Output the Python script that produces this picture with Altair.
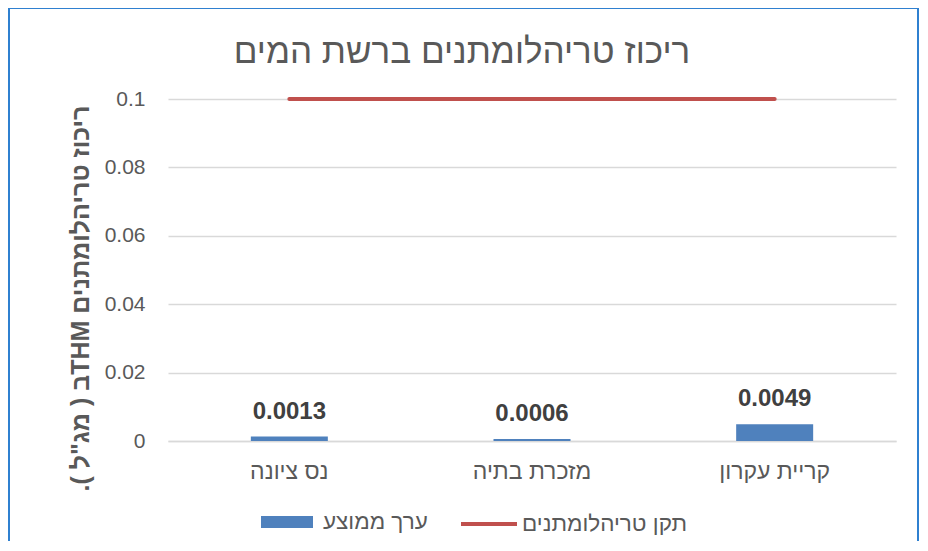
import altair as alt
import pandas as pd

categories = ["נס ציונה", "מזכרת בתיה", "קריית עקרון"]
avg_values = [0.0013, 0.0006, 0.0049]
standard_values = [0.1, 0.1, 0.1]
y_ticks = [0, 0.02, 0.04, 0.06, 0.08, 0.1]

bar_name = "ערך ממוצע"
line_name = "תקן טריהלומתנים"
title_text = "ריכוז טריהלומתנים ברשת המים"
y_title = "\u202Bריכוז טריהלומתנים  THMב ( מג\"ל ).\u202C"

df = pd.DataFrame({
    "city": categories,
    "avg": avg_values,
    "std": standard_values,
    "bar_series": [bar_name] * 3,
    "line_series": [line_name] * 3,
})

FONT = "Liberation Sans"
W, H = 728, 342

x_enc = alt.X("city:N", sort=categories, title=None,
              scale=alt.Scale(paddingInner=0, paddingOuter=0),
              axis=alt.Axis(labelFontSize=23, labelColor="#595959", labelFont=FONT,
                            labelPadding=19, ticks=False, domainColor="#D9D9D9",
                            domainWidth=1.5, labelAngle=0))

y_scale = alt.Scale(domain=[0, 0.1], nice=False)

bars = alt.Chart(df).mark_bar(size=77).encode(
    x=x_enc,
    y=alt.Y("avg:Q", scale=y_scale,
            axis=alt.Axis(values=y_ticks, format="~g", labelFontSize=21,
                          labelColor="#595959", labelFont=FONT, labelPadding=23,
                          ticks=False, domain=False, gridColor="#D9D9D9", gridWidth=1.5,
                          title=y_title, titleFont=FONT, titleFontSize=25,
                          titleFontWeight="bold", titleColor="#595959",
                          titleAngle=-90, titleX=-88, titleY=199,
                          titleAlign="center", titleBaseline="middle")),
    fill=alt.Fill("bar_series:N",
                  scale=alt.Scale(domain=[bar_name], range=["#4F81BD"]),
                  legend=alt.Legend(title=None, orient="none", legendX=93, legendY=397,
                                    symbolType="M-1,-0.23H1V0.23H-1Z", symbolSize=2704,
                                    symbolStrokeWidth=0, labelFontSize=22.5,
                                    labelColor="#595959", labelFont=FONT,
                                    labelOffset=10, labelLimit=400, padding=0)),
)

labels = alt.Chart(df).mark_text(
    dy=-18, baseline="alphabetic", fontSize=24, fontWeight="bold",
    color="#404040", font=FONT
).encode(
    x=alt.X("city:N", sort=categories),
    y=alt.Y("avg:Q", scale=y_scale),
    text=alt.Text("avg:Q", format=".4f"),
)

line = alt.Chart(df).mark_line(strokeWidth=4, strokeCap="round").encode(
    x=alt.X("city:N", sort=categories),
    y=alt.Y("std:Q", scale=y_scale),
    stroke=alt.Stroke("line_series:N",
                      scale=alt.Scale(domain=[line_name], range=["#C0504D"]),
                      legend=alt.Legend(title=None, orient="none", legendX=291, legendY=395,
                                        symbolType="stroke", symbolSize=3136,
                                        symbolStrokeWidth=4, labelFontSize=22.5,
                                        labelColor="#595959", labelFont=FONT,
                                        labelOffset=3, labelLimit=400, padding=0)),
)

one = pd.DataFrame({"a": [0]})
title_mark = alt.Chart(one).mark_text(
    text=title_text, fontSize=35, font=FONT, color="#595959",
    align="center", baseline="alphabetic"
).encode(x=alt.value(294), y=alt.value(-36))

FRAME = "#2F80D0"
frame_left = alt.Chart(one).mark_rule(color=FRAME, strokeWidth=2).encode(
    x=alt.value(-159), y=alt.value(-92), y2=alt.value(H + 100))
frame_right = alt.Chart(one).mark_rule(color=FRAME, strokeWidth=2).encode(
    x=alt.value(W + 22), y=alt.value(-92), y2=alt.value(H + 100))
frame_top = alt.Chart(one).mark_rule(color=FRAME, strokeWidth=2).encode(
    x=alt.value(-160), x2=alt.value(W + 23), y=alt.value(-91))

chart = alt.layer(bars, labels, line, title_mark, frame_left, frame_right, frame_top).properties(
    width=W, height=H,
    autosize=alt.AutoSizeParams(type="none"),
    padding={"left": 160, "top": 91, "right": 24, "bottom": 100},
).configure_view(stroke=None)

chart.save("out.html", embed_options={"renderer": "svg", "actions": False})
